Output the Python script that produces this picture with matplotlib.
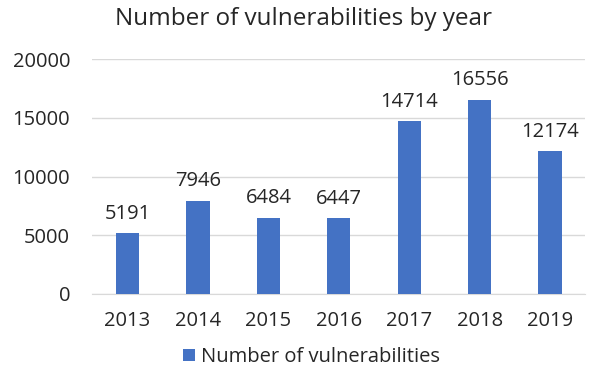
import matplotlib
matplotlib.use("Agg")
import matplotlib.pyplot as plt

years = ["2013", "2014", "2015", "2016", "2017", "2018", "2019"]
counts = [5191, 7946, 6484, 6447, 14714, 16556, 12174]
series_name = "Number of vulnerabilities"
title = "Number of vulnerabilities by year"
yticks = [0, 5000, 10000, 15000, 20000]

plt.rcParams['font.family'] = ['Open Sans', 'DejaVu Sans']

fig = plt.figure(figsize=(5.96, 3.72), dpi=100)
ax = fig.add_axes([0.155, 0.21, 0.827, 0.631])
color = "#4472C4"
x = range(len(years))
bars = ax.bar(x, counts, width=0.33, color=color, label=series_name, zorder=3)
for xi, v in zip(x, counts):
    ax.text(xi, v + 800, str(v), ha='center', va='bottom', fontsize=14.5, color='#262626')
ax.set_xlim(-0.5, len(years) - 0.5)
ax.set_ylim(0, 20000)
ax.set_yticks(yticks)
ax.set_yticklabels([str(t) for t in yticks], fontsize=14.5, color='#262626')
ax.set_xticks(list(x))
ax.set_xticklabels(years, fontsize=14.5, color='#262626')
ax.tick_params(axis='both', length=0)
ax.tick_params(axis='x', pad=12)
ax.tick_params(axis='y', pad=16)
ax.grid(axis='y', color='#D9D9D9', linewidth=1, zorder=0)
for s in ['top', 'right', 'left']:
    ax.spines[s].set_visible(False)
ax.spines['bottom'].set_color('#D9D9D9')
fig.text(0.51, 0.948, title, ha='center', va='center', fontsize=17.5, color='#262626')
fig.legend(handles=[bars], labels=[series_name], loc='center', bbox_to_anchor=(0.522, 0.04),
           frameon=False, fontsize=14.5, handlelength=0.6, handleheight=0.6, handletextpad=0.3,
           labelcolor='#262626')
fig.savefig("out.png", dpi=100)
